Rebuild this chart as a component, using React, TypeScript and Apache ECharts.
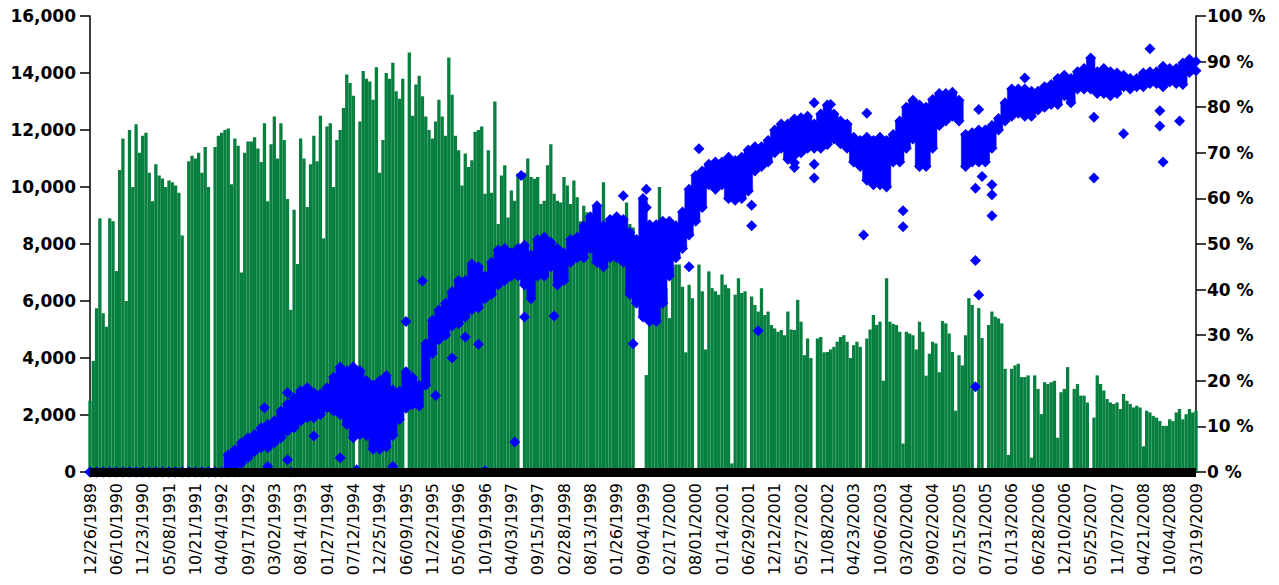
import React, { useEffect, useRef } from "react";
import * as echarts from "echarts";

// X-axis tick labels (every 8th category)
const dateLabels = [
  "12/26/1989", "06/10/1990", "11/23/1990", "05/08/1991", "10/21/1991", "04/04/1992",
  "09/17/1992", "03/02/1993", "08/14/1993", "01/27/1994", "07/12/1994", "12/25/1994",
  "06/09/1995", "11/22/1995", "05/06/1996", "10/19/1996", "04/03/1997", "09/15/1997",
  "02/28/1998", "08/13/1998", "01/26/1999", "09/04/1999", "02/17/2000", "08/01/2000",
  "01/14/2001", "06/29/2001", "12/12/2001", "05/27/2002", "11/08/2002", "04/23/2003",
  "10/06/2003", "03/20/2004", "09/02/2004", "02/15/2005", "07/31/2005", "01/13/2006",
  "06/28/2006", "12/10/2006", "05/25/2007", "11/07/2007", "04/21/2008", "10/04/2008",
  "03/19/2009",
];
const STEP = 8;

// Green bars (left axis), one per category
const volume = [
  2500, 3900, 5750, 8900, 5570, 5100, 8900, 8800, 7050, 10600,
  11700, 6000, 12000, 10000, 12200, 11200, 11800, 11900, 10500, 9500,
  10800, 10400, 10300, 10000, 10230, 10170, 10050, 9800, 8300, 0,
  10900, 11100, 11000, 11200, 10500, 11400, 10000, 0, 11400, 11800,
  11900, 12000, 12050, 10100, 11700, 11450, 7000, 11200, 11600, 11600,
  11750, 11350, 10880, 12240, 9500, 11500, 12470, 11000, 12240, 11650,
  9580, 5690, 9200, 7300, 11700, 11000, 9300, 10800, 11800, 10900,
  12500, 8200, 12120, 12240, 10000, 11650, 12000, 12770, 13950, 13650,
  13200, 0, 12300, 14070, 13800, 13700, 13060, 14200, 10500, 11650,
  14000, 13800, 14360, 13360, 13100, 13800, 0, 14715, 12500, 13600,
  13900, 13180, 12470, 12000, 11700, 12300, 13060, 12470, 11800, 14540,
  13240, 11800, 11290, 10050, 11175, 10700, 10940, 11940, 12000, 12120,
  9760, 11290, 9800, 13000, 8700, 10400, 10760, 8930, 9880, 9520,
  10470, 0, 10500, 11000, 10350, 10290, 10350, 9400, 9520, 10760,
  11500, 9760, 9520, 9460, 10350, 10050, 9400, 10230, 9640, 8800,
  9340, 9110, 8800, 8580, 8200, 8340, 10170, 8340, 8340, 8200,
  8100, 7990, 8700, 9460, 8700, 8580, 0, 0, 0, 3400,
  5750, 5750, 5750, 10000, 7000, 6450, 5400, 7160, 7280, 7280,
  6500, 4200, 6570, 6100, 0, 7280, 6340, 4300, 7040, 6450,
  6340, 6220, 6930, 6570, 6450, 300, 6220, 6800, 6280, 6340,
  0, 6160, 5860, 5630, 6450, 5510, 5630, 5160, 5040, 4920,
  4980, 4800, 5630, 5000, 4980, 6040, 5275, 4100, 4685, 4000,
  0, 4685, 4740, 4200, 4210, 4300, 4390, 4570, 4740, 4800,
  4570, 4000, 4450, 4570, 4390, 0, 4685, 5000, 5510, 5160,
  5275, 3200, 6800, 5275, 5200, 5160, 4920, 1000, 4920, 4860,
  4800, 4300, 5275, 4920, 3380, 4150, 4570, 4510, 3500, 5300,
  5215, 4860, 4210, 2150, 4100, 3740, 4800, 6100, 5860, 0,
  5750, 4700, 0, 5160, 5630, 5450, 5390, 5215, 3620, 600,
  3620, 3740, 3800, 3330, 3330, 3390, 500, 3390, 2915, 2030,
  3150, 3090, 3150, 3200, 1200, 2800, 2915, 3680, 0, 2915,
  3090, 2680, 2680, 2440, 0, 1910, 3390, 3090, 2860, 2560,
  2440, 2385, 2440, 2210, 2740, 2500, 2385, 2265, 2325, 2265,
  900, 2150, 2090, 1970, 1910, 1790, 1620, 1620, 1850, 1790,
  2090, 2210, 1850, 2030, 2210, 2090, 2150,
];

// Blue band (right axis, %), upper and lower edge at every 2nd category
const bandHi = [
  0, 0, 0, 0, 0, 0, 0, 0, 0, 0,
  0, 0, 0, 0, 0, 0, 0, 0, 0, 0,
  0, 3.8, 4.9, 6.4, 7.5, 8.2, 9.7, 10.4, 11.2, 13.4,
  14.9, 16.3, 17.8, 18.5, 17.4, 17.1, 18.5, 20.8, 23.0, 22.2,
  23.0, 22.2, 20.0, 19.0, 20.0, 21.1, 18.0, 17.7, 22.0, 20.7,
  19.0, 28.1, 33.3, 35.5, 37.0, 39.6, 42.0, 42.0, 45.6, 45.0,
  43.0, 46.0, 48.7, 49.0, 48.0, 49.0, 49.7, 47.6, 51.0, 51.5,
  50.4, 49.0, 48.0, 51.0, 51.5, 54.0, 56.0, 58.4, 54.0, 55.4,
  56.0, 55.4, 52.6, 51.0, 60.0, 54.2, 54.2, 55.0, 55.0, 54.0,
  57.0, 62.0, 65.0, 66.0, 67.5, 68.0, 68.0, 69.0, 68.3, 69.0,
  70.6, 71.3, 71.3, 72.7, 75.0, 76.3, 76.3, 77.4, 77.7, 78.0,
  76.3, 78.5, 80.5, 78.5, 77.0, 76.3, 73.4, 72.7, 73.4, 72.7,
  73.4, 72.7, 74.0, 77.0, 80.0, 81.5, 80.5, 80.0, 81.7, 83.0,
  83.0, 83.3, 81.5, 74.0, 74.4, 75.0, 75.0, 76.0, 77.5, 81.0,
  84.0, 84.0, 84.0, 83.5, 83.5, 84.5, 85.0, 86.3, 87.0, 86.3,
  87.8, 88.5, 90.8, 87.8, 88.5, 87.8, 87.5, 87.0, 86.3, 86.3,
  87.5, 87.8, 87.8, 89.0, 88.5, 88.5, 89.7, 90.5, 90.0,
];
const bandLo = [
  0, 0, 0, 0, 0, 0, 0, 0, 0, 0,
  0, 0, 0, 0, 0, 0, 0, 0, 0, 0,
  0, 0, 0, 1.9, 3.1, 4.5, 5.3, 5.3, 6.4, 7.5,
  9.0, 9.7, 11.2, 11.9, 11.9, 12.6, 14.1, 13.4, 12.6, 10.4,
  7.5, 8.2, 8.0, 5.0, 5.0, 5.5, 8.0, 11.5, 14.0, 14.8,
  14.5, 19.0, 26.0, 29.0, 30.0, 32.0, 32.5, 34.0, 35.6, 36.0,
  38.0, 39.0, 41.0, 42.0, 43.0, 43.0, 41.0, 38.0, 43.0, 43.0,
  45.0, 41.0, 42.0, 46.0, 47.0, 47.0, 49.0, 46.0, 45.0, 47.0,
  47.0, 46.0, 39.0, 37.0, 34.0, 33.0, 33.0, 37.0, 43.0, 47.0,
  49.0, 52.0, 55.0, 58.0, 63.0, 62.0, 63.0, 60.0, 59.6, 60.0,
  61.6, 66.0, 67.0, 68.0, 70.0, 71.0, 68.6, 69.4, 70.0, 71.0,
  71.0, 71.0, 71.8, 73.0, 72.0, 71.0, 68.0, 67.0, 64.0, 63.0,
  63.0, 62.5, 68.0, 68.0, 71.0, 73.0, 67.0, 67.0, 71.0, 76.0,
  77.0, 78.0, 77.0, 67.0, 68.0, 68.0, 68.0, 71.0, 75.0, 77.0,
  78.0, 78.7, 78.0, 78.0, 79.4, 80.0, 80.6, 80.6, 82.5, 81.0,
  84.0, 84.0, 84.0, 83.0, 83.0, 82.5, 83.0, 84.5, 84.0, 84.5,
  84.5, 85.2, 85.2, 84.5, 85.5, 85.2, 85.0, 87.6, 88.0,
];

// Isolated blue points: [category index, percent]
const outliers: [number, number][] = [
  [53, 14.1], [60, 17.4], [68, 7.9], [76, 3.1], [60, 2.7], [54, 1.2], [81, 0.5],
  [61, 0], [92, 1.2], [120, 0.3],
  [131, 65], [162, 60.6], [101, 41.9], [96, 33], [110, 25], [105, 16.8], [129, 6.6],
  [165, 28.1], [132, 34], [141, 34.2], [114, 29.6], [118, 28],
  [220, 81], [225, 80.6], [236, 78.7], [185, 70.9], [214, 67.8], [220, 67.5], [220, 64.5],
  [196, 60], [201, 58.5], [201, 54], [247, 57.3], [247, 53.8], [235, 52], [182, 45],
  [203, 31], [169, 62], [169, 58], [214, 66.8],
  [322, 92.8], [284, 86.4], [270, 79.5], [305, 77.8], [325, 79.2], [325, 75.9], [331, 77],
  [314, 74.2], [326, 68], [305, 64.5], [271, 64.8], [269, 62.2], [274, 63], [274, 60.8],
  [274, 56.2], [269, 46.4], [270, 38.8], [269, 18.7],
];

const GREEN = "#067f3f";
const BLUE = "#0000ff";

export default function App() {
  const ref = useRef<HTMLDivElement>(null);
  useEffect(() => {
    if (!ref.current) return;
    const chart = echarts.init(ref.current, null, { renderer: "svg" });

    const last = volume.length - 1;
    const categories: string[] = [];
    for (let i = 0; i < volume.length; i++) {
      categories.push(i % STEP === 0 ? dateLabels[i / STEP] : "");
    }
    const band = bandHi.map((h, j) => [j * 2, bandLo[j], h]);
    const hiPts = bandHi.map((h, j) => [j * 2, h]);
    const loPts = bandLo.map((l, j) => [j * 2, l]);

    const axisLabelY = {
      fontFamily: "DejaVu Sans",
      fontWeight: "bold" as const,
      fontSize: 17,
      color: "#000",
    };
    const dot = {
      type: "scatter" as const,
      yAxisIndex: 1,
      symbol: "diamond",
      symbolSize: 11,
      z: 5,
      itemStyle: { color: BLUE, opacity: 1 },
    };

    chart.setOption({
      animation: false,
      grid: { left: 90, right: 83, top: 16, bottom: 113 },
      xAxis: {
        type: "category",
        data: categories,
        boundaryGap: false,
        offset: 3,
        z: 10,
        axisLine: { lineStyle: { color: "#000", width: 9, cap: "butt" } },
        axisTick: { show: false },
        axisLabel: {
          interval: STEP - 1,
          rotate: 90,
          margin: 8,
          fontFamily: "DejaVu Sans",
          fontSize: 16,
          color: "#000",
        },
        splitLine: { show: false },
      },
      yAxis: [
        {
          type: "value",
          min: 0,
          max: 16000,
          interval: 2000,
          position: "left",
          axisLine: { show: true, lineStyle: { color: "#000", width: 1.5 } },
          axisTick: { show: true, length: 10, lineStyle: { color: "#000", width: 1.5 } },
          axisLabel: {
            ...axisLabelY,
            margin: 14,
            formatter: (v: number) => v.toLocaleString("en-US"),
          },
          splitLine: { show: false },
        },
        {
          type: "value",
          min: 0,
          max: 100,
          interval: 10,
          position: "right",
          axisLine: { show: true, lineStyle: { color: "#000", width: 1.5 } },
          axisTick: { show: true, length: 10, lineStyle: { color: "#000", width: 1.5 } },
          axisLabel: { ...axisLabelY, margin: 11, formatter: (v: number) => `${v} %` },
          splitLine: { show: false },
        },
      ],
      series: [
        {
          type: "bar",
          data: volume,
          yAxisIndex: 0,
          barCategoryGap: "0%",
          z: 2,
          itemStyle: { color: GREEN },
        },
        {
          type: "custom",
          yAxisIndex: 1,
          data: band,
          z: 4,
          encode: { x: 0, y: [1, 2] },
          renderItem: (params: any, api: any) => {
            const x = api.value(0);
            const lo = api.value(1);
            const hi = api.value(2);
            if (!(hi > lo)) return null;
            const left = api.coord([Math.max(x - 1, 0), hi])[0];
            const right = api.coord([Math.min(x + 1, last), hi])[0];
            const yTop = api.coord([x, hi])[1];
            const yBot = api.coord([x, lo])[1];
            const cs = params.coordSys;
            const rect = echarts.graphic.clipRectByRect(
              { x: left - 1, y: yTop, width: right - left + 2, height: yBot - yTop },
              { x: cs.x, y: cs.y, width: cs.width, height: cs.height }
            );
            if (!rect) return null;
            return { type: "rect", shape: rect, style: { fill: BLUE, stroke: BLUE, lineWidth: 0.5 } };
          },
        },
        { ...dot, data: hiPts },
        { ...dot, data: loPts },
        { ...dot, data: outliers },
      ],
    });
    return () => chart.dispose();
  }, []);
  return (
    <div
      ref={ref}
      style={{ position: "absolute", left: 0, top: 0, width: 1279, height: 585 }}
    />
  );
}
